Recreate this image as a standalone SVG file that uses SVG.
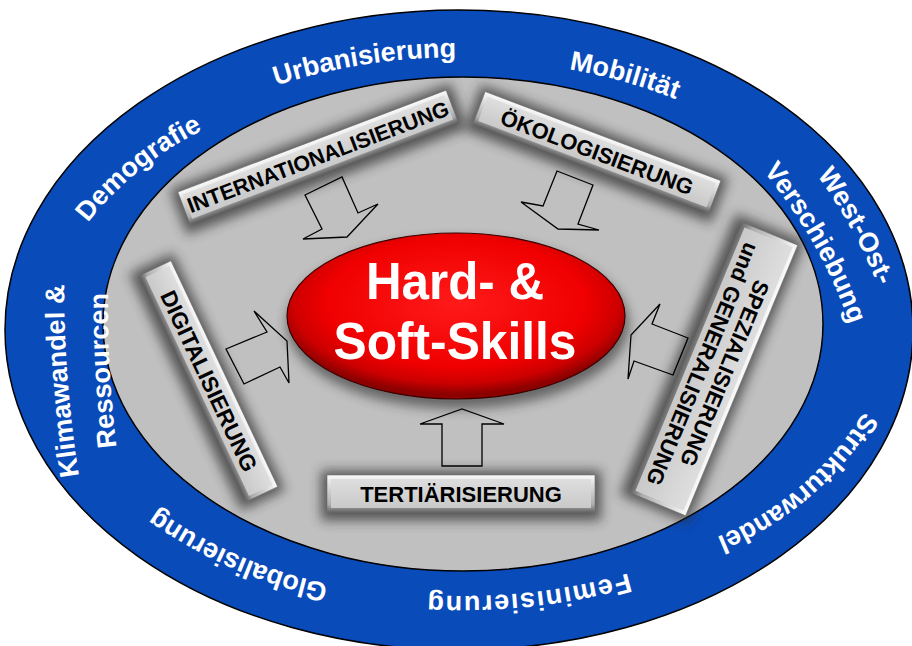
<svg xmlns="http://www.w3.org/2000/svg" width="912" height="646" viewBox="0 0 912 646">
<defs>
<style>
.ring{font-family:"Liberation Sans",Arial,sans-serif;font-weight:bold;font-size:27px;fill:#fff;text-anchor:middle}
.lbl{font-family:"Liberation Sans",Arial,sans-serif;font-weight:bold;font-size:22px;fill:#000;text-anchor:middle}
.arrow{fill:none;stroke:#000;stroke-width:1.3;stroke-linejoin:miter}
.bev{fill:url(#bevel);stroke:#6e6e6e;stroke-width:0.6}
.face{fill:url(#face)}
.shadow{fill:#2a2a2a;opacity:.7;filter:url(#blur)}
.center{font-family:"Liberation Sans",Arial,sans-serif;font-weight:bold;font-size:52px;fill:#fff;text-anchor:middle}
</style>
<linearGradient id="bevel" x1="0" y1="0" x2="0" y2="1">
<stop offset="0" stop-color="#fbfbfb"/><stop offset=".2" stop-color="#e4e4e4"/><stop offset=".8" stop-color="#adadad"/><stop offset="1" stop-color="#676767"/>
</linearGradient>
<linearGradient id="face" x1="0" y1="0" x2="0" y2="1">
<stop offset="0" stop-color="#dedede"/><stop offset="1" stop-color="#c9c9c9"/>
</linearGradient>
<radialGradient id="red" cx="50%" cy="42%" r="55%">
<stop offset="0" stop-color="#ff1a1a"/><stop offset=".7" stop-color="#f00000"/><stop offset=".88" stop-color="#cc0000"/><stop offset="1" stop-color="#8c0000"/>
</radialGradient>
<filter id="blur" x="-30%" y="-60%" width="160%" height="220%"><feGaussianBlur stdDeviation="6"/></filter>
<path id="p-urb" d="M124.1,159.1 A598,598 0 0 1 623.6,80.6"/>
<path id="p-mob" d="M452.5,62 A549,549 0 0 1 779.4,153"/>
<path id="p-dem" d="M65,256.2 A329,329 0 0 1 240,114.6"/>
<path id="p-kli" d="M86,516 A1200,1200 0 0 1 65,244"/>
<path id="p-res" d="M122,487 A1200,1200 0 0 1 109,253"/>
<path id="p-glo" d="M380.3,592.1 A468.3,468.3 0 0 1 114.8,476.4"/>
<path id="p-fem" d="M673.8,558.6 A613,613 0 0 1 378.9,590.2"/>
<path id="p-str" d="M880.4,379.9 A307.2,307.2 0 0 1 682.9,548.5"/>
<path id="p-wes" d="M779.4,130 A500,500 0 0 1 896.7,341.6"/>
<path id="p-ver" d="M728.7,133.6 A500,500 0 0 1 864.4,373.5"/>
</defs>

<g id="outer-ring">
<ellipse cx="459" cy="330" rx="454" ry="320" fill="#0a4bba" stroke="#000" stroke-width="1.5"/>
</g>
<g id="inner-area">
<ellipse cx="463" cy="324" rx="360" ry="247" fill="#c0c0c0" stroke="#000" stroke-width="1.5"/>
</g>

<g id="node-internationalisierung" transform="translate(318,157) rotate(-20.8)">
<rect class="shadow" x="-150" y="-22" width="300" height="48"/>
<rect class="bev" x="-143.5" y="-17" width="287" height="34"/>
<rect class="face" x="-139.5" y="-13" width="279" height="26"/>
<text class="lbl" y="7.5" style="font-size:21.5px">INTERNATIONALISIERUNG</text>
</g>
<g id="node-oekologisierung" transform="translate(597,152) rotate(20.7)">
<rect class="shadow" x="-132" y="-22" width="264" height="48"/>
<rect class="bev" x="-126" y="-17" width="252" height="34"/>
<rect class="face" x="-122" y="-13" width="244" height="26"/>
<text class="lbl" y="8">ÖKOLOGISIERUNG</text>
</g>
<g id="node-digitalisierung" transform="translate(209,381) rotate(64.7)">
<rect class="shadow" x="-131" y="-22" width="262" height="48"/>
<rect class="bev" x="-125" y="-17" width="250" height="34"/>
<rect class="face" x="-121" y="-13" width="242" height="26"/>
<text class="lbl" y="8" style="font-size:22.5px">DIGITALISIERUNG</text>
</g>
<g id="node-spezialisierung" transform="translate(714,369) rotate(112.5)">
<rect class="shadow" x="-152" y="-35" width="304" height="74"/>
<rect class="bev" x="-146.5" y="-30" width="293" height="60"/>
<rect class="face" x="-142.5" y="-26" width="285" height="52"/>
<text class="lbl" y="-4">SPEZIALISIERUNG</text>
<text class="lbl" y="20">und GENERALISIERUNG</text>
</g>
<g id="node-tertiaerisierung" transform="translate(461,493.5)">
<rect class="shadow" x="-140" y="-23" width="280" height="50"/>
<rect class="bev" x="-134" y="-18.5" width="268" height="37"/>
<rect class="face" x="-130" y="-14.5" width="260" height="29"/>
<text class="lbl" y="8">TERTIÄRISIERUNG</text>
</g>

<g id="connectors">
<polygon class="arrow" points="305,195 342,177 358,213 378,204 347,237 303,239 322,229"/>
<polygon class="arrow" points="557,171 593,185 578,224 599,230 558,229 521,202 543,206"/>
<polygon class="arrow" points="254,311 287,341 289,383 280,367 244,384 226,349 267,332"/>
<polygon class="arrow" points="660,304 631,335 628,379 634,361 673,375 688,338 652,324"/>
<polygon class="arrow" points="442,466 442,424 420,424 462,409 504,424 482,424 482,466"/>
</g>

<g id="node-hard-soft-skills">
<ellipse cx="458" cy="324" rx="171" ry="85" fill="#2a2a2a" opacity=".6" filter="url(#blur)"/>
<ellipse cx="456" cy="316" rx="169" ry="83" fill="url(#red)" stroke="#3a0000" stroke-width="1.2"/>
<text class="center" x="455" y="299" textLength="178" lengthAdjust="spacingAndGlyphs">Hard- &amp;</text>
<text class="center" x="455" y="359" textLength="243" lengthAdjust="spacingAndGlyphs">Soft-Skills</text>
</g>

<g id="ring-labels">
<text class="ring"><textPath href="#p-urb" startOffset="50%">Urbanisierung</textPath></text>
<text class="ring"><textPath href="#p-mob" startOffset="50%">Mobilität</textPath></text>
<text class="ring"><textPath href="#p-dem" startOffset="50%">Demografie</textPath></text>
<text class="ring"><textPath href="#p-kli" startOffset="50%">Klimawandel &amp;</textPath></text>
<text class="ring"><textPath href="#p-res" startOffset="50%">Ressourcen</textPath></text>
<text class="ring"><textPath href="#p-glo" startOffset="50%">Globalisierung</textPath></text>
<text class="ring" style="letter-spacing:1.5px"><textPath href="#p-fem" startOffset="50%">Feminisierung</textPath></text>
<text class="ring"><textPath href="#p-str" startOffset="50%">Strukturwandel</textPath></text>
<text class="ring"><textPath href="#p-wes" startOffset="50%">West-Ost-</textPath></text>
<text class="ring"><textPath href="#p-ver" startOffset="50%">Verschiebung</textPath></text>
</g>
</svg>
